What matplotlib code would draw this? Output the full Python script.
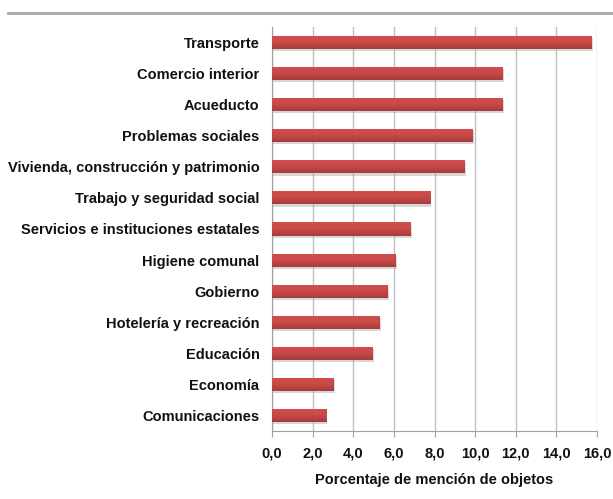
import matplotlib
matplotlib.use("Agg")
import matplotlib.pyplot as plt
from matplotlib.lines import Line2D
from matplotlib.colors import LinearSegmentedColormap
import numpy as np

categories = ["Transporte", "Comercio interior", "Acueducto", "Problemas sociales",
              "Vivienda, construcción y patrimonio", "Trabajo y seguridad social",
              "Servicios e instituciones estatales", "Higiene comunal", "Gobierno",
              "Hotelería y recreación", "Educación", "Economía", "Comunicaciones"]
values = [15.75, 11.35, 11.35, 9.87, 9.5, 7.78, 6.84, 6.1, 5.7, 5.3, 4.97, 3.05, 2.67]
xticks = [0, 2, 4, 6, 8, 10, 12, 14, 16]
xlabel = "Porcentaje de mención de objetos"

plt.rcParams['font.family'] = ['Liberation Sans', 'DejaVu Sans']
FS = 10.5
FW = 'bold'
TC = '#111111'

fig = plt.figure(figsize=(6.13, 4.99), dpi=100)
ax = fig.add_axes([272/613, 1-431/499, (597-272)/613, (431-27)/499])

y = np.arange(len(categories))
H = 0.42
# shadow
ax.barh(y + 0.07, values, height=H, color='#A8A8A8', alpha=0.45, left=0.06, zorder=2)
bars = ax.barh(y, values, height=H, color='#C4494A', edgecolor='none', zorder=3)
cmap = LinearSegmentedColormap.from_list('g', ['#D24F4D', '#C84A49', '#A83C3B'])
grad = np.linspace(0, 1, 64).reshape(-1, 1)
for yi, b in zip(y, bars):
    im = ax.imshow(grad, extent=[0, b.get_width(), yi + H/2, yi - H/2],
                   origin='upper', aspect='auto', cmap=cmap, zorder=3.5)
    im.set_clip_path(b)

ax.set_ylim(len(categories) - 0.5, -0.5)
ax.set_xlim(0, 16)
ax.set_yticks(y)
ax.set_yticklabels(categories, fontsize=FS, fontweight=FW, color=TC)
ax.tick_params(axis='y', length=0, pad=9)
ax.set_xticks(xticks)
ax.set_xticklabels([f"{v:.1f}".replace('.', ',') for v in xticks], fontsize=FS,
                   fontweight=FW, color=TC)
ax.tick_params(axis='x', length=4, color='#A0A0A0', direction='out', pad=7)
ax.set_xlabel(xlabel, fontsize=FS, fontweight=FW, color=TC, labelpad=9)
ax.grid(axis='x', color='#BFBFBF', linewidth=1, zorder=0)
ax.set_axisbelow(True)
for s in ['top', 'right']:
    ax.spines[s].set_visible(False)
for s in ['left', 'bottom']:
    ax.spines[s].set_color('#A0A0A0')

fig.add_artist(Line2D([8/613, 1], [1-13/499, 1-13/499], color='#A6A6A6', linewidth=2))

fig.savefig("out.png", dpi=100)
